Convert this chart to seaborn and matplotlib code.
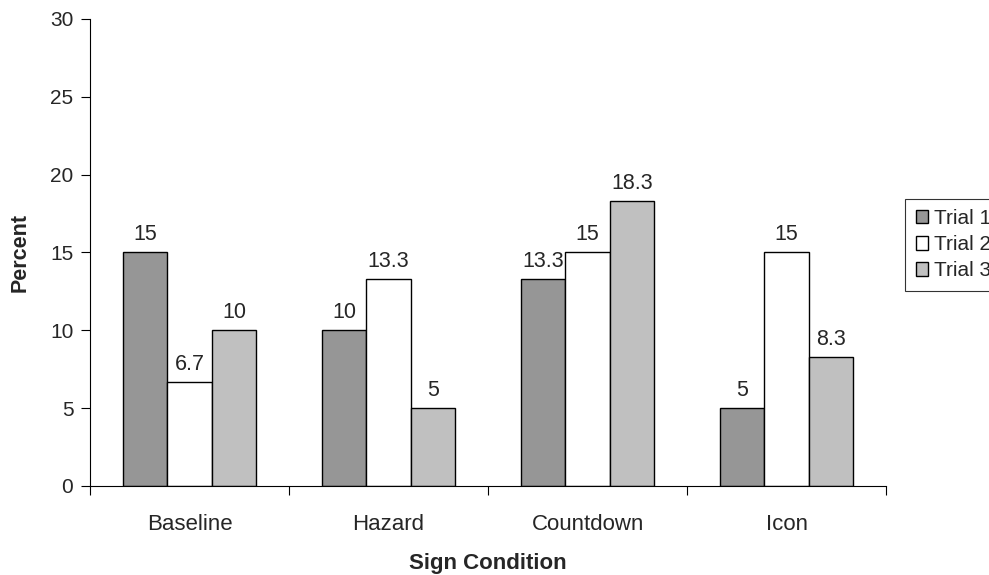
import matplotlib
matplotlib.use("Agg")
import matplotlib.pyplot as plt
import seaborn as sns
import pandas as pd
from matplotlib.ticker import FixedLocator

categories = ["Baseline", "Hazard", "Countdown", "Icon"]
trials = ["Trial 1", "Trial 2", "Trial 3"]
trial1 = [15, 10, 13.3, 5]
trial2 = [6.7, 13.3, 15, 15]
trial3 = [10, 5, 18.3, 8.3]
value_labels = {"Trial 1": ["15", "10", "13.3", "5"],
                "Trial 2": ["6.7", "13.3", "15", "15"],
                "Trial 3": ["10", "5", "18.3", "8.3"]}

df = pd.DataFrame({
    "Sign Condition": categories * 3,
    "Trial": [t for t in trials for _ in categories],
    "Percent": trial1 + trial2 + trial3,
})

sns.set_style("white")
plt.rcParams["font.family"] = ["Liberation Sans", "DejaVu Sans"]

fig = plt.figure(figsize=(9.89, 5.75), dpi=100)
ax = fig.add_axes([0.091, 0.155, 0.805, 0.812])

palette = {"Trial 1": "#969696", "Trial 2": "#FFFFFF", "Trial 3": "#C0C0C0"}
sns.barplot(data=df, x="Sign Condition", y="Percent", hue="Trial",
            hue_order=trials, order=categories, palette=palette,
            width=0.67, edgecolor="black", linewidth=1.0, ax=ax,
            saturation=1, errorbar=None)

for cont, t in zip(ax.containers, trials):
    ax.bar_label(cont, labels=value_labels[t], padding=5, fontsize=15.5)

ax.set_ylim(0, 30)
ax.set_xlim(-0.5, 3.5)
ax.set_yticks([0, 5, 10, 15, 20, 25, 30])
ax.tick_params(axis="y", labelsize=15, length=6.5, width=0.8, direction="out",
               left=True, color="black", pad=5.5)
ax.tick_params(axis="x", which="major", labelsize=16, length=0, pad=20)
ax.xaxis.set_minor_locator(FixedLocator([-0.5, 0.5, 1.5, 2.5, 3.5]))
ax.tick_params(axis="x", which="minor", length=6.5, width=0.8, direction="out",
               bottom=True, color="black")

for s in ["top", "right"]:
    ax.spines[s].set_visible(False)
for s in ["left", "bottom"]:
    ax.spines[s].set_color("black")
    ax.spines[s].set_linewidth(0.8)

ax.set_xlabel("Sign Condition", fontsize=16, fontweight="bold", labelpad=13)
ax.set_ylabel("Percent", fontsize=15.5, fontweight="bold", labelpad=14)

leg = ax.legend(loc="upper left", bbox_to_anchor=(1.024, 0.615), frameon=True,
                fontsize=15, handlelength=0.6, handleheight=0.6,
                handletextpad=0.3, borderpad=0.5, labelspacing=0.34,
                fancybox=False, borderaxespad=0)
leg.get_frame().set_edgecolor("black")
leg.get_frame().set_linewidth(0.8)

fig.savefig("out.png", dpi=100)
